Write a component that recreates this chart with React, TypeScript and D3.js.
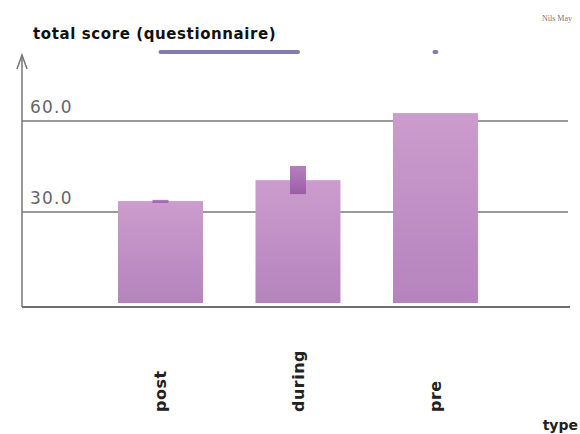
import { useEffect, useRef } from 'react';
import * as d3 from 'd3';

// values
const categories = ['post', 'during', 'pre'];
const means = [33.6, 40.5, 62.6];
const errLow = [33.0, 35.9, 62.6];
const errHigh = [34.0, 45.2, 62.6];
const yTicks = [30, 60];
// markers drawn above the plot (from -> to)
const brackets: [string, string][] = [
  ['post', 'during'],
  ['pre', 'pre'],
];

export default function App() {
  const svgRef = useRef<SVGSVGElement>(null);

  useEffect(() => {
    if (!svgRef.current) return;
    const svg = d3.select(svgRef.current);
    svg.selectAll('*').remove();

    const width = 580;
    const height = 434;
    const axisX = 22;
    const font = '"DejaVu Sans", sans-serif';

    const x = d3
      .scaleBand<string>()
      .domain(categories)
      .range([49.25, 546.7])
      .paddingInner(0.382)
      .paddingOuter(0.5);

    const y = d3.scaleLinear().domain([0, 60]).range([303, 121]);

    const defs = svg.append('defs');
    const barGrad = defs
      .append('linearGradient')
      .attr('id', 'barGrad')
      .attr('x1', 0)
      .attr('y1', 0)
      .attr('x2', 0)
      .attr('y2', 1);
    barGrad.append('stop').attr('offset', '0%').attr('stop-color', '#cb9ccd');
    barGrad.append('stop').attr('offset', '100%').attr('stop-color', '#b683be');

    const errGrad = defs
      .append('linearGradient')
      .attr('id', 'errGrad')
      .attr('x1', 0)
      .attr('y1', 0)
      .attr('x2', 0)
      .attr('y2', 1);
    errGrad.append('stop').attr('offset', '0%').attr('stop-color', '#b77fbf');
    errGrad.append('stop').attr('offset', '100%').attr('stop-color', '#9a5ea8');

    svg.attr('width', width).attr('height', height);

    // gridlines
    svg
      .append('g')
      .selectAll('line')
      .data(yTicks)
      .enter()
      .append('line')
      .attr('x1', axisX)
      .attr('x2', 568)
      .attr('y1', (d) => y(d))
      .attr('y2', (d) => y(d))
      .attr('stroke', '#9a9a9a')
      .attr('stroke-width', 2);

    // tick labels
    svg
      .append('g')
      .selectAll('text')
      .data(yTicks)
      .enter()
      .append('text')
      .attr('x', 30)
      .attr('y', (d) => y(d) - 8)
      .attr('font-family', font)
      .attr('font-size', 17)
      .attr('letter-spacing', 1.2)
      .attr('fill', '#666')
      .text((d) => d.toFixed(1));

    // bars
    svg
      .append('g')
      .selectAll('rect')
      .data(categories)
      .enter()
      .append('rect')
      .attr('x', (d) => x(d)!)
      .attr('width', x.bandwidth())
      .attr('y', (d, i) => y(means[i]))
      .attr('height', (d, i) => y(0) - y(means[i]))
      .attr('fill', 'url(#barGrad)');

    // error boxes
    const errW = 16;
    svg
      .append('g')
      .selectAll('rect')
      .data(categories)
      .enter()
      .append('rect')
      .attr('x', (d) => x(d)! + x.bandwidth() / 2 - errW / 2)
      .attr('width', errW)
      .attr('y', (d, i) => y(errHigh[i]))
      .attr('height', (d, i) => Math.max(0, y(errLow[i]) - y(errHigh[i])))
      .attr('fill', 'url(#errGrad)');

    // baseline
    svg
      .append('line')
      .attr('x1', axisX)
      .attr('x2', 570)
      .attr('y1', y(0) + 4)
      .attr('y2', y(0) + 4)
      .attr('stroke', '#6e6e6e')
      .attr('stroke-width', 2);

    // y axis with arrow
    const top = 55;
    svg
      .append('line')
      .attr('x1', axisX)
      .attr('x2', axisX)
      .attr('y1', top)
      .attr('y2', y(0) + 4)
      .attr('stroke', '#777')
      .attr('stroke-width', 1.5);
    svg
      .append('path')
      .attr('d', `M${axisX - 5},${top + 14} L${axisX},${top} L${axisX + 5},${top + 14}`)
      .attr('fill', 'none')
      .attr('stroke', '#777')
      .attr('stroke-width', 1.5);

    // markers above the plot
    const by = 52;
    svg
      .append('g')
      .selectAll('line')
      .data(brackets)
      .enter()
      .append('line')
      .attr('x1', (d) => x(d[0])! + x.bandwidth() / 2 - (d[0] === d[1] ? 1 : 0))
      .attr('x2', (d) => x(d[1])! + x.bandwidth() / 2 + (d[0] === d[1] ? 1 : 0))
      .attr('y1', by)
      .attr('y2', by)
      .attr('stroke', '#8579b0')
      .attr('stroke-width', 4)
      .attr('stroke-linecap', 'round');

    // category labels
    svg
      .append('g')
      .selectAll('text')
      .data(categories)
      .enter()
      .append('text')
      .attr('transform', (d) => `translate(${x(d)! + x.bandwidth() / 2 + 6},412) rotate(-90)`)
      .attr('text-anchor', 'start')
      .attr('font-family', font)
      .attr('font-weight', 'bold')
      .attr('font-size', 16)
      .attr('letter-spacing', 0.5)
      .attr('fill', '#222')
      .text((d) => d);

    // titles
    svg
      .append('text')
      .attr('x', 33)
      .attr('y', 39)
      .attr('font-family', font)
      .attr('font-weight', 'bold')
      .attr('font-size', 15)
      .attr('letter-spacing', 0.6)
      .attr('fill', '#111')
      .text('total score (questionnaire)');

    svg
      .append('text')
      .attr('x', 578)
      .attr('y', 430)
      .attr('text-anchor', 'end')
      .attr('font-family', font)
      .attr('font-weight', 'bold')
      .attr('font-size', 14)
      .attr('fill', '#222')
      .text('type');

    svg
      .append('text')
      .attr('x', 572)
      .attr('y', 21)
      .attr('text-anchor', 'end')
      .attr('font-family', '"Liberation Serif", serif')
      .attr('font-size', 8)
      .attr('fill', '#777')
      .text('Nils May');
  }, []);

  return (
    <svg
      ref={svgRef}
      style={{ position: 'absolute', left: 0, top: 0, display: 'block', background: '#fff' }}
    />
  );
}
